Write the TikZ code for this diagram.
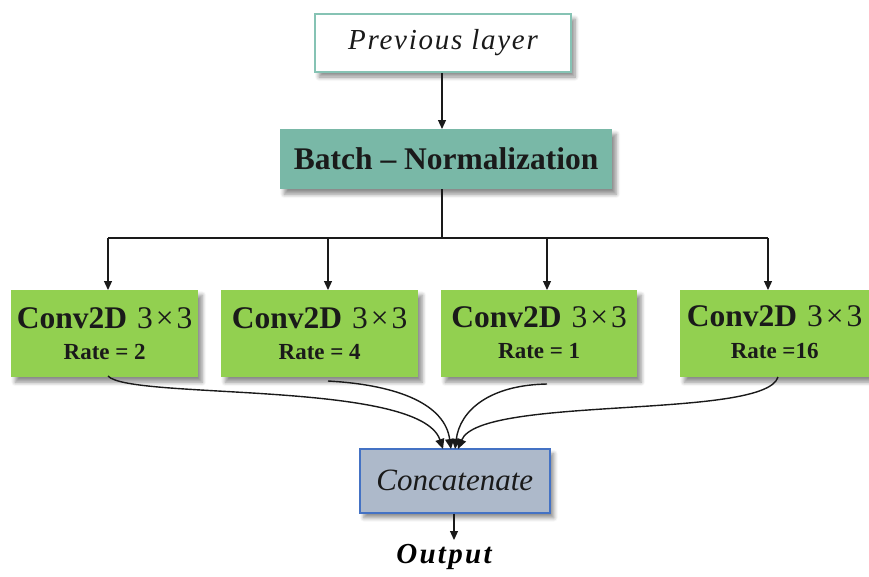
\documentclass[tikz,border=0pt]{standalone}
\usepackage{fontspec}
\setmainfont{Liberation Serif}
\usetikzlibrary{shadows.blur,arrows.meta}
\definecolor{tealfill}{HTML}{79B8A7}
\definecolor{tealline}{HTML}{86C3B4}
\definecolor{convgreen}{HTML}{92D050}
\definecolor{catfill}{HTML}{ADB9CA}
\definecolor{catline}{HTML}{4472C4}
\definecolor{inktext}{HTML}{1A1A1A}
\tikzset{
  shad/.style={blur shadow={shadow xshift=4pt,shadow yshift=-5pt,shadow blur radius=4pt,shadow blur steps=6,shadow opacity=45}},
  box/.style={rectangle,inner sep=0pt,anchor=north west,shad,text=inktext},
  conv/.style={box,fill=convgreen,minimum width=187pt,minimum height=87pt},
  link/.style={line width=1.2pt,draw=inktext,-{Triangle[length=9pt,width=8pt]}},
  bendlink/.style={line width=1.4pt,draw=inktext,-{Triangle[length=10pt,width=9pt]}},
}
\newcommand{\convtext}[1]{\shortstack{{\fontsize{31.5}{33}\selectfont\bfseries Conv2D\hspace{10pt}\mdseries 3\kern3pt\texttimes\kern3pt3}\\[13pt]{\fontsize{23}{25}\selectfont\bfseries #1}}}
\begin{document}
\begin{tikzpicture}[x=1pt,y=-1pt]
\useasboundingbox (0,0) rectangle (869,576);
% input and normalisation
\node[box,draw=tealline,line width=2pt,fill=white,minimum width=256pt,minimum height=58pt] (prev) at (314,13)
  {\raisebox{-3pt}{\fontsize{29}{31}\selectfont\itshape\addfontfeature{LetterSpace=6}Previous layer}};
\node[box,fill=tealfill,minimum width=332pt,minimum height=60pt] (bn) at (280,129)
  {\fontsize{31.5}{33}\selectfont\bfseries Batch -- Normalization};
\draw[link] (prev.south -| 442,0) -- (bn.north -| 442,0);
% four dilated convolutions
\node[conv] (c1) at (11,290) {\raisebox{-4pt}{\convtext{Rate = 2}}};
\node[conv,minimum width=197pt] (c2) at (221,290) {\convtext{Rate = 4}};
\node[conv,minimum width=196pt] (c3) at (441,290) {\raisebox{2pt}{\convtext{Rate = 1}}};
\node[conv,minimum width=189pt] (c4) at (680,290) {\raisebox{3pt}{\convtext{Rate =16}}};
% fan-out bus
\coordinate (split) at (442,238);
\coordinate (b1) at (108,238);
\coordinate (b2) at (328,238);
\coordinate (b3) at (547,238);
\coordinate (b4) at (768,238);
\draw[line width=1.2pt,draw=inktext] (bn.south -| split) -- (split);
\draw[line width=1.2pt,draw=inktext] (b1) -- (b4);
\draw[link] (b1) -- (c1.north -| b1);
\draw[link] (b2) -- (c2.north -| b2);
\draw[link] (b3) -- (c3.north -| b3);
\draw[link] (b4) -- (c4.north -| b4);
% concatenation
\node[box,draw=catline,line width=1.6pt,fill=catfill,minimum width=190pt,minimum height=64pt] (cat) at (359,448)
  {\fontsize{31}{33}\selectfont\itshape Concatenate};
\draw[bendlink] (108,376) .. controls (130,400) and (420,380) .. (443,449);
\draw[bendlink] (328,381) .. controls (400,385) and (445,405) .. (451,449);
\draw[bendlink] (547,384) .. controls (490,385) and (460,410) .. (455,449);
\draw[bendlink] (778,377) .. controls (765,420) and (480,395) .. (458,449);
\node (out) at (444,557) {\fontsize{29}{31}\selectfont\bfseries\itshape\addfontfeature{LetterSpace=8}Output};
\draw[link] (cat.south -| 454,0) -- (454,540);
\end{tikzpicture}
\end{document}
